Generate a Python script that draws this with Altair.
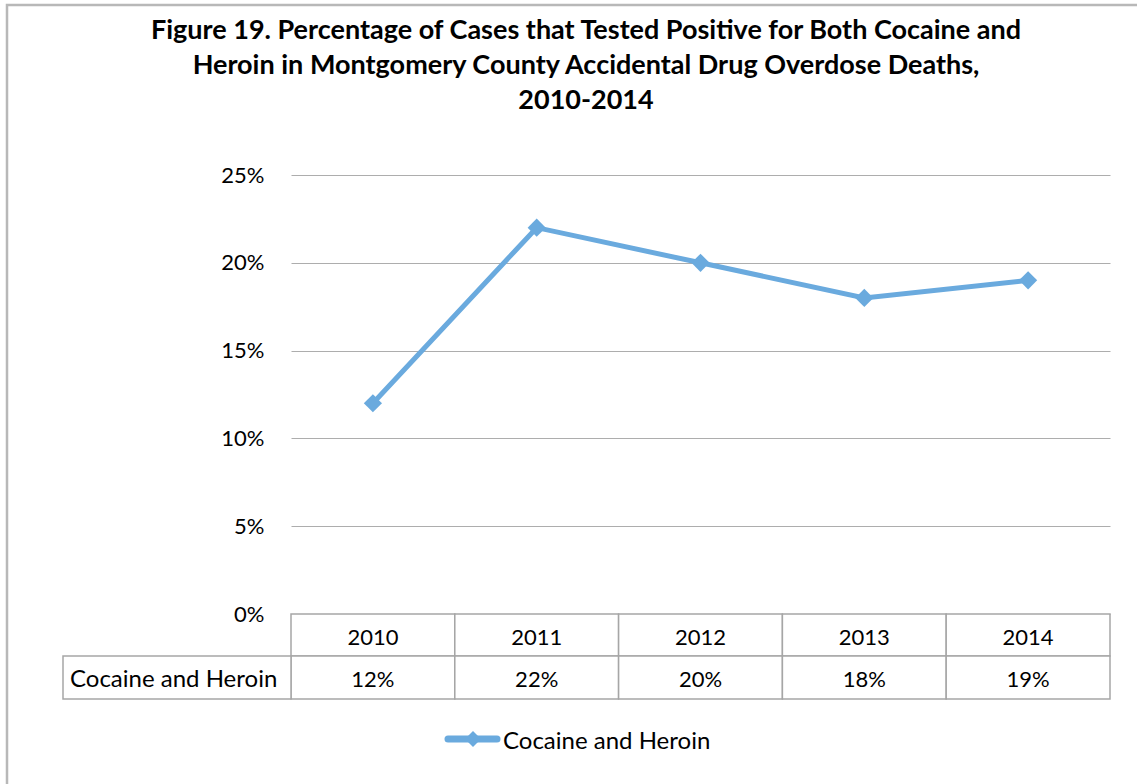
import altair as alt
import pandas as pd

years = ["2010", "2011", "2012", "2013", "2014"]
values = [0.12, 0.22, 0.20, 0.18, 0.19]
series_name = "Cocaine and Heroin"
title_lines = [
    "Figure 19. Percentage of Cases that Tested Positive for Both Cocaine and",
    "Heroin in Montgomery County Accidental Drug Overdose Deaths,",
    "2010-2014",
]
y_ticks = [0, 0.05, 0.10, 0.15, 0.20, 0.25]

FONT = "Lato"
BLUE = "#6aaade"
GRID = "#adadad"
TABLE = "#a6a6a6"
W, H = 819, 439

df = pd.DataFrame({"year": years, "pct": values, "series": series_name})
one = pd.DataFrame({"series": [series_name], "title": ["\n".join(title_lines)]})

xs = alt.Scale(type="band", domain=years, paddingInner=0, paddingOuter=0)
ys = alt.Scale(domain=[0, 0.25], nice=False)

base = alt.Chart(df)

line = base.mark_line(color=BLUE, strokeWidth=5).encode(
    x=alt.X("year:N", scale=xs, axis=None, bandPosition=0.5),
    y=alt.Y("pct:Q", scale=ys,
            axis=alt.Axis(values=y_ticks, format=".0%", grid=True, gridColor=GRID,
                          gridWidth=1, domain=False, ticks=False, labelPadding=27,
                          labelFontSize=22, labelFont=FONT, labelColor="black",
                          title=None)),
)
pts = base.mark_point(shape="diamond", filled=True, color=BLUE, size=330, opacity=1).encode(
    x=alt.X("year:N", scale=xs, axis=None, bandPosition=0.5),
    y=alt.Y("pct:Q", scale=ys),
)

# data table below the plot
hdr_cells = base.mark_rect(fill="white", stroke=TABLE, strokeWidth=1.5).encode(
    x=alt.X("year:N", scale=xs, axis=None),
    y=alt.value(H), y2=alt.value(H + 42),
)
val_cells = base.mark_rect(fill="white", stroke=TABLE, strokeWidth=1.5).encode(
    x=alt.X("year:N", scale=xs, axis=None),
    y=alt.value(H + 42), y2=alt.value(H + 85),
)
label_cell = alt.Chart(one).mark_rect(fill="white", stroke=TABLE, strokeWidth=1.5).encode(
    x=alt.value(-228), x2=alt.value(0), y=alt.value(H + 42), y2=alt.value(H + 85),
)
hdr_text = base.mark_text(font=FONT, fontSize=22, color="black", baseline="middle").encode(
    x=alt.X("year:N", scale=xs, axis=None, bandPosition=0.5),
    y=alt.value(H + 24), text="year:N",
)
val_text = base.mark_text(font=FONT, fontSize=22, color="black", baseline="middle").encode(
    x=alt.X("year:N", scale=xs, axis=None, bandPosition=0.5),
    y=alt.value(H + 66), text=alt.Text("pct:Q", format=".0%"),
)
label_text = alt.Chart(one).mark_text(font=FONT, fontSize=24, color="black",
                                       align="left", baseline="middle").encode(
    x=alt.value(-221), y=alt.value(H + 66), text="series:N",
)

# legend
leg_line = alt.Chart(one).mark_rule(color=BLUE, strokeWidth=7, strokeCap="round").encode(
    x=alt.value(157), x2=alt.value(206), y=alt.value(564),
)
leg_pt = alt.Chart(one).mark_point(shape="diamond", filled=True, color=BLUE, size=260, opacity=1).encode(
    x=alt.value(182), y=alt.value(564),
)
leg_text = alt.Chart(one).mark_text(font=FONT, fontSize=24, color="black",
                                     align="left", baseline="middle").encode(
    x=alt.value(212), y=alt.value(567), text="series:N",
)

# title (as a text mark so it sits inside the outer frame)
title = alt.Chart(one).mark_text(font=FONT, fontSize=27, fontWeight="bold", color="black",
                                  align="center", baseline="alphabetic", lineBreak="\n",
                                  lineHeight=35).encode(
    x=alt.value(295), y=alt.value(-136), text="title:N",
)

frame = alt.Chart(one).mark_rect(fill=None, stroke="#b8b8b8", strokeWidth=2.5).encode(
    x=alt.value(-284), y=alt.value(-170), x2=alt.value(W + 200), y2=alt.value(H + 300),
)

chart = alt.layer(
    frame, title, line, pts, hdr_cells, val_cells, label_cell, hdr_text, val_text, label_text,
    leg_line, leg_pt, leg_text,
).properties(
    width=W, height=H,
    autosize=alt.AutoSizeParams(type="none"),
    padding={"left": 291, "top": 175, "right": 27, "bottom": 170},
).configure(background="white").configure_view(stroke=None)

chart.save("out.html", embed_options={"renderer": "svg", "actions": False})
